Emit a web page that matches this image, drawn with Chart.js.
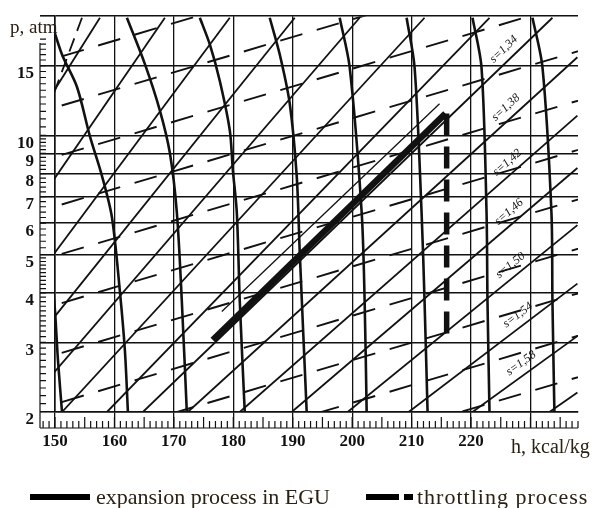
<!DOCTYPE html>
<html>
<head>
<meta charset="utf-8">
<script src="https://cdn.jsdelivr.net/npm/chart.js@4.4.1/dist/chart.umd.min.js"></script>
<style>
  html, body { margin: 0; padding: 0; background: #fff; }
  #wrap { position: relative; width: 594px; height: 508px; overflow: hidden; }
  #chart { position: absolute; left: 0; top: 0; }
  .txt { position: absolute; font-family: "Liberation Serif", "Times New Roman", serif; color: #2b2012; white-space: nowrap; line-height: 1; }
  .swatch { position: absolute; background: #000; height: 6px; }
</style>
</head>
<body>
<div id="wrap">
  <canvas id="chart" width="594" height="508"></canvas>
  <div class="txt" style="left:10px; top:17px; font-size:19px;">p, atm</div>
  <div class="txt" style="left:511px; top:436px; font-size:20px;">h, kcal/kg</div>

  <div class="swatch" style="left:30px; top:494px; width:60px;"></div>
  <div class="txt" style="left:96px; top:486px; font-size:22px;">expansion process in EGU</div>
  <div class="swatch" style="left:366px; top:494px; width:33px;"></div>
  <div class="swatch" style="left:404px; top:494px; width:9px;"></div>
  <div class="txt" style="left:417px; top:486px; font-size:22px; letter-spacing:1px;">throttling process</div>
</div>

<script>
// ---------- AXES ----------
const hTicks = [150, 160, 170, 180, 190, 200, 210, 220, 230];
const hLabels = [150, 160, 170, 180, 190, 200, 210, 220];
const pTicks = [2, 3, 4, 5, 6, 7, 8, 9, 10, 15, 20];
const pLabels = [2, 3, 4, 5, 6, 7, 8, 9, 10, 15];

// ---------- PROCESS LINES (h, p) ----------
const expansion = [[176.55, 3.04], [215.7, 11.35]];
const expansionEdge = [[178.07, 3.59], [214.7, 12.02]];
const throttling = [[215.9, 11.35], [215.9, 2.97]];

// ---------- ISOTHERMS (h, p), bottom to top ----------
const isoT1 = [[151.18, 2], [150.5, 2.70], [150.0, 3.60], [149.2, 5.07]];
const isoT2 = [[162.27, 2], [161.76, 2.86], [160.92, 4.03], [159.58, 6.21], [157.90, 7.90], [155.88, 9.94], [153.70, 13.25], [151.18, 16.0], [149.16, 19.82]];
const isoT3 = [[172.18, 2], [171.34, 3.81], [170.50, 6.39], [169.33, 9.02], [167.65, 11.55], [165.13, 15.13], [162.10, 19.82]];
const isoT4 = [[181.93, 2], [181.09, 3.81], [180.59, 6.39], [179.92, 8.18], [179.41, 10.29], [177.73, 13.72], [176.05, 16.97], [174.37, 19.82]];
const isoT5 = [[192.35, 2], [191.18, 5.07], [190.67, 7.90], [189.50, 12.02], [187.82, 16.0], [186.13, 19.82]];
const isoT6 = [[202.44, 2], [202.10, 3.81], [201.60, 6.39], [199.58, 14.87], [197.90, 19.82]];
const isoT7 = [[212.69, 2], [212.18, 3.81], [211.68, 6.39], [210.50, 14.87], [209.16, 19.82]];
const isoT8 = [[223.11, 2], [222.77, 3.81], [222.61, 6.39], [221.76, 14.87], [220.25, 19.82]];
const isoT9 = [[234.03, 2], [233.70, 3.81], [233.53, 6.39], [232.02, 14.87], [230.34, 19.82]];

// ---------- ISENTROPES: [h1, p1, h2, p2] ----------
const isentropes = [
  [233.19, 2, 237.9, 2.24],
  [220.25, 2, 237.9, 3.11],   // s=1,58
  [209.50, 2, 237.9, 4.22],   // s=1,54
  [199.24, 2, 237.9, 5.93],   // s=1,50
  [189.83, 2, 237.9, 8.27],   // s=1,46
  [181.09, 2, 237.9, 11.22],  // s=1,42
  [172.35, 2, 237.9, 15.75],  // s=1,38
  [164.79, 2, 233.70, 19.82], // s=1,34
  [158.74, 2, 223.11, 19.82],
  [151.18, 2, 212.18, 19.82],
  [144.12, 2, 201.26, 19.82],
  [137.06, 2, 190.34, 19.82],
  [130.00, 2, 179.41, 19.82],
  [122.94, 2, 168.49, 19.82],
  [115.88, 2, 157.56, 19.82],
  [108.82, 2, 146.64, 19.82]
];
const sLabels = ["s=1,58", "s=1,54", "s=1,50", "s=1,46", "s=1,42", "s=1,38", "s=1,34"];
const sLabelLine = [1, 2, 3, 4, 5, 6, 7];
const sLabelH = [229.5, 229.0, 227.8, 227.6, 227.3, 227.1, 226.8];

// ---------- DASHED (volume) LINES: [h1, p1, h2, p2] ----------
const volumeLines = [
  [145, 14.87, 240, 39.4],
  [145, 11.17, 240, 29.6],
  [145, 8.38, 240, 22.2],
  [145, 6.28, 240, 16.65],
  [145, 4.71, 240, 12.49],
  [145, 3.54, 240, 9.38],
  [145, 2.65, 240, 7.03],
  [145, 1.99, 240, 5.28],
  [145, 1.54, 240, 4.07],
  [145, 1.20, 240, 3.18],
  [145, 0.943, 240, 2.50]
];
const steepDashed = [[154.54, 19.82], [149.16, 12.02]];

// ---------- HELPERS ----------
const INK = "#111";

function curve(points, opts) {
  return Object.assign({
    data: points.map(([h, p]) => ({ x: h, y: p })),
    showLine: true,
    pointRadius: 0,
    borderColor: INK,
    borderWidth: 1.8,
    fill: false,
    clip: 0
  }, opts);
}

function segment(row, opts) {
  return curve([[row[0], row[1]], [row[2], row[3]]], opts);
}

const datasets = [
  curve(expansion, { borderWidth: 6.5, borderCapStyle: "butt" }),
  curve(throttling, { borderWidth: 5.5, borderDash: [22, 11], borderCapStyle: "butt" }),
  curve(expansionEdge, { borderWidth: 1.3 }),
  ...[isoT1, isoT2, isoT3, isoT4, isoT5, isoT6, isoT7, isoT8, isoT9].map(t => curve(t, { borderWidth: 2.6, tension: 0.3 })),
  ...isentropes.map(r => segment(r, { borderWidth: 1.8 })),
  ...volumeLines.map(r => segment(r, { borderWidth: 1.9, borderDash: [23, 15] })),
  curve(steepDashed, { borderWidth: 1.8, borderDash: [14, 8] })
];

// ---------- PLUGINS ----------
const rulers = {
  id: "rulers",
  afterDraw(chart) {
    const { ctx, chartArea: a, scales: { x, y } } = chart;
    ctx.save();
    ctx.strokeStyle = INK;
    ctx.lineWidth = 1.2;
    ctx.beginPath();
    const base = a.bottom + 16;
    ctx.moveTo(40, base);
    ctx.lineTo(a.right, base);
    for (let h = 148; h <= 238; h++) {
      const px = x.getPixelForValue(h);
      if (px < 41) continue;
      const len = h % 5 === 0 ? 11 : 7;
      ctx.moveTo(px, base);
      ctx.lineTo(px, base - len);
    }
    ctx.moveTo(40, 43);
    ctx.lineTo(40, base);
    const marks = [];
    for (let p = 2.1; p < 5; p += 0.1) marks.push(p);
    for (let p = 5.2; p < 10; p += 0.2) marks.push(p);
    for (let p = 10.5; p < 18; p += 0.5) marks.push(p);
    marks.forEach(p => {
      const py = y.getPixelForValue(p);
      ctx.moveTo(40, py);
      ctx.lineTo(46, py);
    });
    ctx.stroke();
    ctx.restore();
  }
};

const entropyLabels = {
  id: "entropyLabels",
  afterDatasetsDraw(chart) {
    const { ctx, scales: { x, y } } = chart;
    ctx.save();
    ctx.fillStyle = INK;
    ctx.font = "italic 12px 'Liberation Serif', serif";
    ctx.textAlign = "center";
    ctx.textBaseline = "middle";
    sLabels.forEach((txt, i) => {
      const r = isentropes[sLabelLine[i]];
      const x1 = x.getPixelForValue(r[0]), y1 = y.getPixelForValue(r[1]);
      const x2 = x.getPixelForValue(r[2]), y2 = y.getPixelForValue(r[3]);
      const len = Math.hypot(x2 - x1, y2 - y1);
      const dx = (x2 - x1) / len, dy = (y2 - y1) / len;
      const px = x.getPixelForValue(sLabelH[i]);
      const py = y1 + (px - x1) / (x2 - x1) * (y2 - y1);
      const off = 11;
      ctx.save();
      ctx.translate(px + dy * off, py - dx * off);
      ctx.rotate(Math.atan2(dy, dx));
      ctx.fillText(txt, 0, 0);
      ctx.restore();
    });
    ctx.restore();
  }
};

// ---------- CHART ----------
new Chart(document.getElementById("chart"), {
  type: "scatter",
  data: { datasets },
  options: {
    responsive: false,
    animation: false,
    events: [],
    devicePixelRatio: 1,
    layout: { padding: { left: 0, top: 12, right: 16, bottom: 0 } },
    plugins: { legend: { display: false }, tooltip: { enabled: false } },
    scales: {
      x: {
        type: "linear",
        min: 150,
        max: 238,
        afterFit(s) { s.height = 96; },
        afterBuildTicks(s) { s.ticks = hTicks.map(v => ({ value: v })); },
        ticks: {
          autoSkip: false,
          maxRotation: 0,
          padding: 3,
          color: INK,
          font: { family: "'Liberation Serif', serif", size: 17, weight: "bold" },
          callback: v => (hLabels.includes(v) ? String(v) : "")
        },
        grid: { color: INK, lineWidth: 1.3, tickLength: 16 },
        border: { color: INK, width: 1.6 }
      },
      y: {
        type: "logarithmic",
        min: 2,
        max: 20,
        afterFit(s) { s.width = 55; },
        afterBuildTicks(s) { s.ticks = pTicks.map(v => ({ value: v })); },
        ticks: {
          autoSkip: false,
          padding: 6,
          labelOffset: 8,
          color: INK,
          font: { family: "'Liberation Serif', serif", size: 17, weight: "bold" },
          callback: v => (pLabels.includes(v) ? String(v) : "")
        },
        grid: { color: INK, lineWidth: 1.6, tickLength: 15 },
        border: { color: INK, width: 1.6 }
      }
    }
  },
  plugins: [rulers, entropyLabels]
});
</script>
</body>
</html>
